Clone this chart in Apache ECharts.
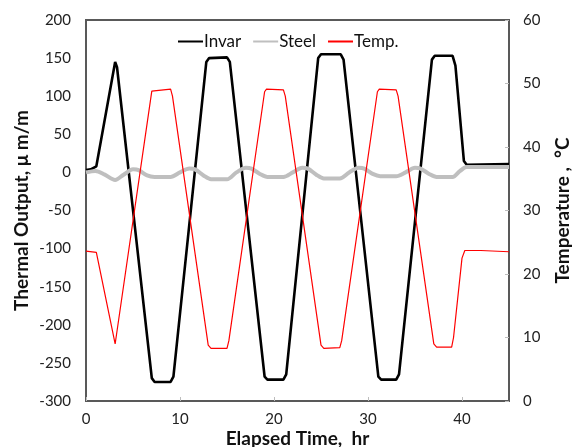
<!DOCTYPE html>
<html>
<head>
<meta charset="utf-8">
<script src="https://cdn.jsdelivr.net/npm/echarts@6/dist/echarts.min.js"></script>
<style>
  html, body { margin: 0; padding: 0; background: #fff; }
  #chart { width: 578px; height: 447px; }
</style>
</head>
<body>
<div id="chart"></div>
<script>
// Elapsed time (hr) and readings for each trace
const invarTime  = [0, 0.5, 1.1, 3.1, 3.3, 7.0, 7.3, 9.0, 9.3, 12.8, 13.1, 15.0, 15.3, 19.0, 19.3, 21.0, 21.3, 24.7, 25.0, 27.1, 27.4, 31.1, 31.4, 33.0, 33.3, 36.8, 37.1, 39.0, 39.3, 40.2, 40.5, 45];
const invarValue = [3, 4, 8, 145, 138, -270, -275, -275, -268, 145, 150, 151, 145, -268, -272, -272, -265, 150, 155, 155, 148, -268, -272, -272, -265, 148, 153, 153, 140, 15, 10, 11];

const steelTime  = [0, 1.0, 2.0, 3.1, 4.0, 5.0, 5.6, 6.5, 7.3, 9.0, 10.0, 11.0, 11.6, 12.5, 13.3, 15.0, 16.0, 17.0, 17.6, 18.5, 19.3, 21.0, 22.0, 23.0, 23.6, 24.5, 25.3, 27.0, 28.0, 29.0, 29.6, 30.5, 31.3, 33.0, 34.0, 35.0, 35.6, 36.5, 37.3, 39.0, 39.8, 40.5, 45];
const steelValue = [0, 2, -3, -10, -3, 4, 3, -4, -6, -6, 0, 5, 4, -4, -9, -9, 0, 6, 5, -2, -6, -6, 0, 6, 5, -3, -8, -8, 0, 6, 5, -2, -5, -5, 0, 6, 5, -2, -6, -6, 2, 7, 7];

const tempTime  = [0, 1.1, 3.1, 3.2, 7.0, 7.2, 9.0, 9.2, 13.0, 13.3, 15.0, 15.2, 19.0, 19.2, 21.0, 21.2, 25.0, 25.3, 27.0, 27.2, 31.0, 31.2, 33.0, 33.2, 37.0, 37.3, 38.9, 39.1, 40.0, 40.3, 42, 45];
const tempValue = [23.6, 23.4, 9.0, 10, 48.8, 49.1, 49.1, 48, 8.8, 8.3, 8.3, 9.5, 48.7, 49.1, 49.0, 48, 8.8, 8.3, 8.4, 9.5, 48.7, 49.1, 49.0, 48, 9, 8.5, 8.5, 10, 22.5, 23.7, 23.7, 23.5];

// Axis ranges and tick steps
const timeAxis = { min: 0, max: 45, step: 10 };
const strainAxis = { min: -300, max: 200, step: 50 };
const tempAxis = { min: 0, max: 60, step: 10 };

const pairs = (xs, ys) => xs.map((x, i) => [x, ys[i]]);

const FONT = 'Lato';
const axisColor = '#595959';
const tickColor = '#bdbdbd';
const labelStyle = { color: '#222', fontSize: 15, fontFamily: FONT };
const titleStyle = { color: '#111', fontSize: 19, fontWeight: 'bold', fontFamily: FONT };

const chart = echarts.init(document.getElementById('chart'), null, { renderer: 'canvas' });
chart.setOption({
  animation: false,
  backgroundColor: '#fff',
  grid: {
    left: 86, right: 69, top: 20, bottom: 46,
    outerBoundsMode: 'none', containLabel: false,
    show: true, borderColor: axisColor, borderWidth: 2, backgroundColor: 'transparent'
  },
  legend: {
    top: 28, left: 173,
    itemWidth: 25, itemHeight: 10, itemGap: 12,
    icon: 'path://M0,4 L25,4 L25,6 L0,6 Z',
    textStyle: { color: '#111', fontSize: 17, fontFamily: FONT, padding: [0, 0, 0, -4] },
    data: ['Invar', 'Steel', 'Temp.']
  },
  xAxis: {
    type: 'value',
    min: timeAxis.min, max: timeAxis.max, interval: timeAxis.step,
    name: 'Elapsed Time,  hr', nameLocation: 'middle', nameGap: 28, nameMoveOverlap: false,
    nameTextStyle: titleStyle,
    axisLine: { show: true, onZero: false, lineStyle: { color: axisColor, width: 2 } },
    axisTick: { show: true, inside: true, length: 4, lineStyle: { color: tickColor } },
    axisLabel: Object.assign({ margin: 11, showMaxLabel: false }, labelStyle),
    splitLine: { show: false }
  },
  yAxis: [
    {
      type: 'value',
      min: strainAxis.min, max: strainAxis.max, interval: strainAxis.step,
      name: 'Thermal Output, \u03bc m/m', nameLocation: 'middle', nameRotate: 90, nameGap: 55, nameMoveOverlap: false,
      nameTextStyle: titleStyle,
      axisLine: { show: true, onZero: false, lineStyle: { color: axisColor, width: 2 } },
      axisTick: { show: false },
      axisLabel: Object.assign({ margin: 15 }, labelStyle),
      splitLine: { show: false }
    },
    {
      type: 'value', position: 'right',
      min: tempAxis.min, max: tempAxis.max, interval: tempAxis.step,
      name: 'Temperature ,  \u00b0C', nameLocation: 'middle', nameRotate: 90, nameGap: 44, nameMoveOverlap: false,
      nameTextStyle: titleStyle,
      axisLine: { show: true, onZero: false, lineStyle: { color: axisColor, width: 2 } },
      axisTick: { show: true, inside: true, length: 4, lineStyle: { color: tickColor } },
      axisLabel: Object.assign({ margin: 14 }, labelStyle),
      splitLine: { show: false }
    }
  ],
  series: [
    {
      name: 'Invar', type: 'line', yAxisIndex: 0, showSymbol: false, symbol: 'none',
      data: pairs(invarTime, invarValue),
      lineStyle: { color: '#000', width: 2.6 }, itemStyle: { color: '#000' }
    },
    {
      name: 'Steel', type: 'line', yAxisIndex: 0, showSymbol: false, symbol: 'none', smooth: 0.3,
      data: pairs(steelTime, steelValue),
      lineStyle: { color: '#bfbfbf', width: 4 }, itemStyle: { color: '#bfbfbf' }
    },
    {
      name: 'Temp.', type: 'line', yAxisIndex: 1, showSymbol: false, symbol: 'none',
      data: pairs(tempTime, tempValue),
      lineStyle: { color: '#ff0000', width: 1.2 }, itemStyle: { color: '#ff0000' }
    }
  ]
});
</script>
</body>
</html>
